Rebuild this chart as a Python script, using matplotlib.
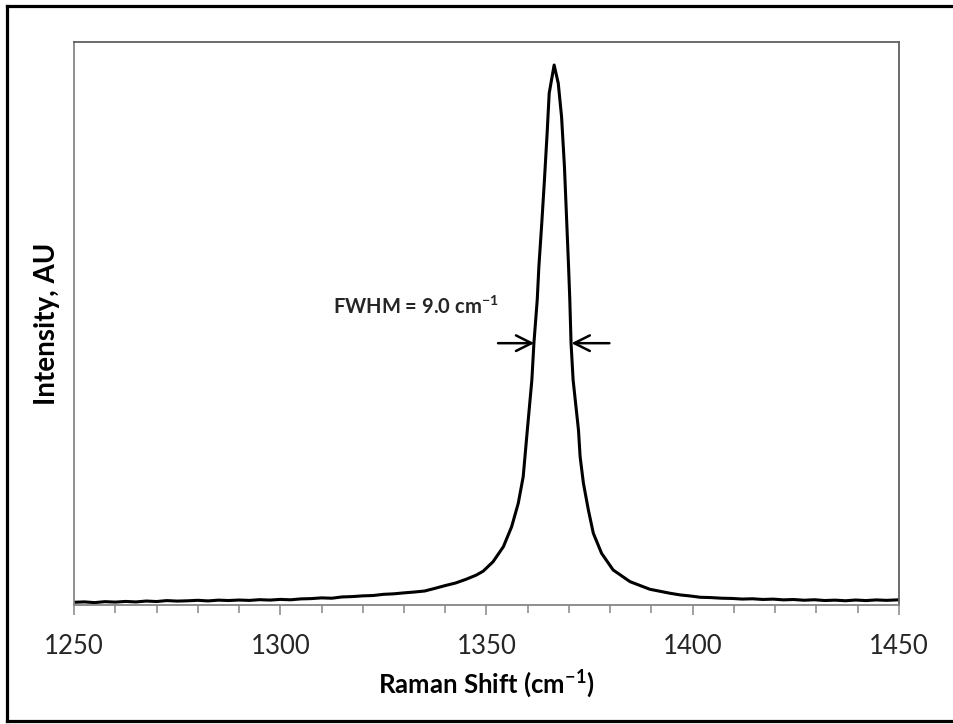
import matplotlib.pyplot as plt
from matplotlib.lines import Line2D
from matplotlib.ticker import MultipleLocator

plt.rcParams['font.family'] = ['Lato', 'DejaVu Sans']
plt.rcParams['mathtext.fontset'] = 'custom'
plt.rcParams['mathtext.rm'] = 'Lato'
plt.rcParams['mathtext.bf'] = 'Lato:bold'

# Raman spectrum (cm-1, arbitrary units)
raman_shift = [1250, 1252.5, 1255, 1257.5, 1260, 1262.5, 1265, 1267.5, 1270, 1272.5,
               1275, 1277.5, 1280, 1282.5, 1285, 1287.5, 1290, 1292.5, 1295, 1297.5,
               1300, 1302.5, 1305, 1307.5, 1310, 1312.5, 1315, 1317.5, 1320, 1322.5,
               1325, 1327.5, 1330, 1332.5, 1335, 1337.5, 1340, 1342.5, 1345, 1347.5,
               1349.2, 1351.6, 1354.1, 1356.1, 1357.7, 1358.9, 1359.9, 1361.0, 1361.5,
               1362.3, 1362.7, 1363.4, 1364.0, 1364.7, 1365.2, 1366.4,
               1367.4, 1368.2, 1368.9, 1369.4, 1369.9, 1370.2, 1370.5, 1371.0, 1372.3,
               1372.7, 1373.5, 1374.7, 1375.9, 1377.9, 1380.7, 1384.8, 1389.6, 1394.5,
               1397, 1399.5, 1401.8, 1404.5, 1407, 1409.5, 1412, 1414.5, 1417, 1419.5,
               1422, 1424.5, 1427, 1429.5, 1432, 1434.5, 1437, 1439.5, 1442, 1444.5,
               1447, 1450]
intensity = [4.8, 5.5, 4.2, 5.9, 5.1, 6.3, 5.4, 7.0, 6.1, 7.8,
             6.9, 7.4, 8.3, 7.2, 8.6, 7.9, 8.8, 8.1, 9.4, 8.7,
             9.9, 9.2, 10.8, 11.3, 12.6, 12.0, 14.3, 14.9, 16.2, 16.8,
             18.9, 19.8, 21.5, 23.0, 24.8, 29.5, 34.5, 39.0, 45.5, 53.0,
             60.0, 76.9, 103.6, 139.1, 180.6, 227.9, 310.8, 399.6, 465.4,
             541.7, 600.9, 678.0, 749.0, 837.8, 908.9, 959.1,
             926.6, 867.3, 778.5, 689.7, 600.9, 541.7, 465.4, 399.6, 310.8,
             263.4, 216.2, 168.7, 127.4, 91.8, 62.2, 41.4, 27.9, 20.8,
             17.8, 15.9, 13.7, 13.1, 12.0, 11.6, 10.5, 11.0, 9.8, 10.4,
             9.1, 9.7, 8.4, 9.3, 7.9, 8.6, 7.5, 8.8, 7.8, 9.0,
             8.2, 9.2]

peak_center = 1366.1
fwhm = 9.0
arrow_y = 465

fig = plt.figure(figsize=(9.54, 7.24), dpi=100)
ax = fig.add_axes([0.0776, 0.1644, 0.8647, 0.7776])

ax.plot(raman_shift, intensity, color='black', linewidth=2.2)

ax.set_xlim(1250, 1450)
ax.set_ylim(0, 1000)
ax.xaxis.set_major_locator(MultipleLocator(50))
ax.xaxis.set_minor_locator(MultipleLocator(10))
ax.tick_params(axis='x', which='major', direction='out', length=7, width=1.1,
               color='#868686', labelsize=18.5, pad=14, labelcolor='#262626')
ax.tick_params(axis='x', which='minor', direction='out', length=6, width=1.1,
               color='#868686')
ax.set_yticks([])
for side in ['left', 'bottom']:
    ax.spines[side].set_color('#868686')
    ax.spines[side].set_linewidth(1.3)
for side in ['top', 'right']:
    ax.spines[side].set_color('#606060')
    ax.spines[side].set_linewidth(1.3)

ax.set_xlabel(r'Raman Shift (cm$^{\mathbf{-1}}$)', fontsize=18.5, fontweight='bold', labelpad=6)
ax.set_ylabel('Intensity, AU', fontsize=20, fontweight='bold', labelpad=10)

# FWHM arrows
ax.annotate('', xy=(peak_center - fwhm / 2, arrow_y), xytext=(peak_center - fwhm / 2 - 8.8, arrow_y),
            arrowprops=dict(arrowstyle='->', color='black', lw=1.8, mutation_scale=28,
                            shrinkA=0, shrinkB=0))
ax.annotate('', xy=(peak_center + fwhm / 2, arrow_y), xytext=(peak_center + fwhm / 2 + 9.2, arrow_y),
            arrowprops=dict(arrowstyle='->', color='black', lw=1.8, mutation_scale=28,
                            shrinkA=0, shrinkB=0))
ax.text(1312.8, 529, r'FWHM = 9.0 cm$^{\mathbf{-1}}$', fontsize=14.5, fontweight='bold',
        color='#262626', ha='left', va='center')

# outer chart border (left, top, bottom)
lw = 2.3
fig.add_artist(Line2D([7 / 954, 7 / 954], [1 - 721 / 724, 1 - 6 / 724], color='black', lw=lw))
fig.add_artist(Line2D([7 / 954, 1], [1 - 6 / 724, 1 - 6 / 724], color='black', lw=lw))
fig.add_artist(Line2D([7 / 954, 1], [1 - 721 / 724, 1 - 721 / 724], color='black', lw=lw))

plt.savefig('out.png', dpi=100)
